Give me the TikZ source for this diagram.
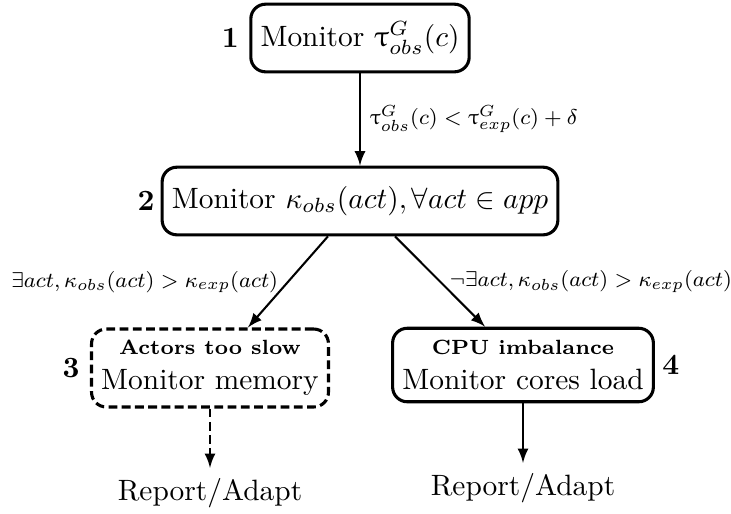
\documentclass[tikz,border=0pt]{standalone}
\usepackage{amssymb}
\usepackage{upgreek}
\usetikzlibrary{positioning}
\tikzset{
	hop/.style={draw,rounded corners=5pt,line width=1.05pt,inner xsep=3.3pt,minimum height=23pt},
	dut/.style={dash pattern=on 3pt off 1.5pt},
	so/.style={font=\bfseries},
	nhan/.style={font=\footnotesize,scale=0.91,transform shape},
	mui/.style={->,line width=0.7pt}
}
\begin{document}
\begin{tikzpicture}[>=latex,x=0.340pt,y=-0.340pt]
		\useasboundingbox (0,0) rectangle (731,513);
		% cac hop
		\node[hop] (b1) at (360,38) {Monitor $\uptau^G_{obs}(c)$};
		\node[hop] (b2) at (360,201) {Monitor $\kappa_{obs}(act), \forall act \in app$};
		\node[hop,dut,align=center,minimum height=26.5pt] (b3) at (210,368) {{\scriptsize\bfseries Actors too slow}\\Monitor memory};
		\node[hop,align=center,minimum height=25pt] (b4) at (523,365) {{\scriptsize\bfseries CPU imbalance}\\Monitor cores load};
		\node (r3) at (210,493) {Report/Adapt};
		\node (r4) at (523,488) {Report/Adapt};
		% so thu tu
		\node[so,left=0pt of b1] (n1) {1};
		\node[so,left=-1.5pt of b2] (n2) {2};
		\node[so,left=0pt of b3] (n3) {3};
		\node[so,right=-1pt of b4] (n4) {4};
		% mui ten
		\draw[mui] (b1) -- (b2) node[nhan,midway,right]{$\uptau^G_{obs}(c) < \uptau^G_{exp}(c) + \delta$};
		\draw[mui] ([xshift=-10.9pt]b2.south) -- ([xshift=12.9pt]b3.north) node[nhan,midway,left]{$\exists act, \kappa_{obs}(act) > \kappa_{exp}(act)$};
		\draw[mui] ([xshift=11.9pt]b2.south) -- ([xshift=-12.9pt]b4.north) node[nhan,midway,right]{$\neg\exists act, \kappa_{obs}(act) > \kappa_{exp}(act)$};
		\draw[mui,dut] (b3) -- (r3);
		\draw[mui] (b4) -- (r4);
\end{tikzpicture}
\end{document}
